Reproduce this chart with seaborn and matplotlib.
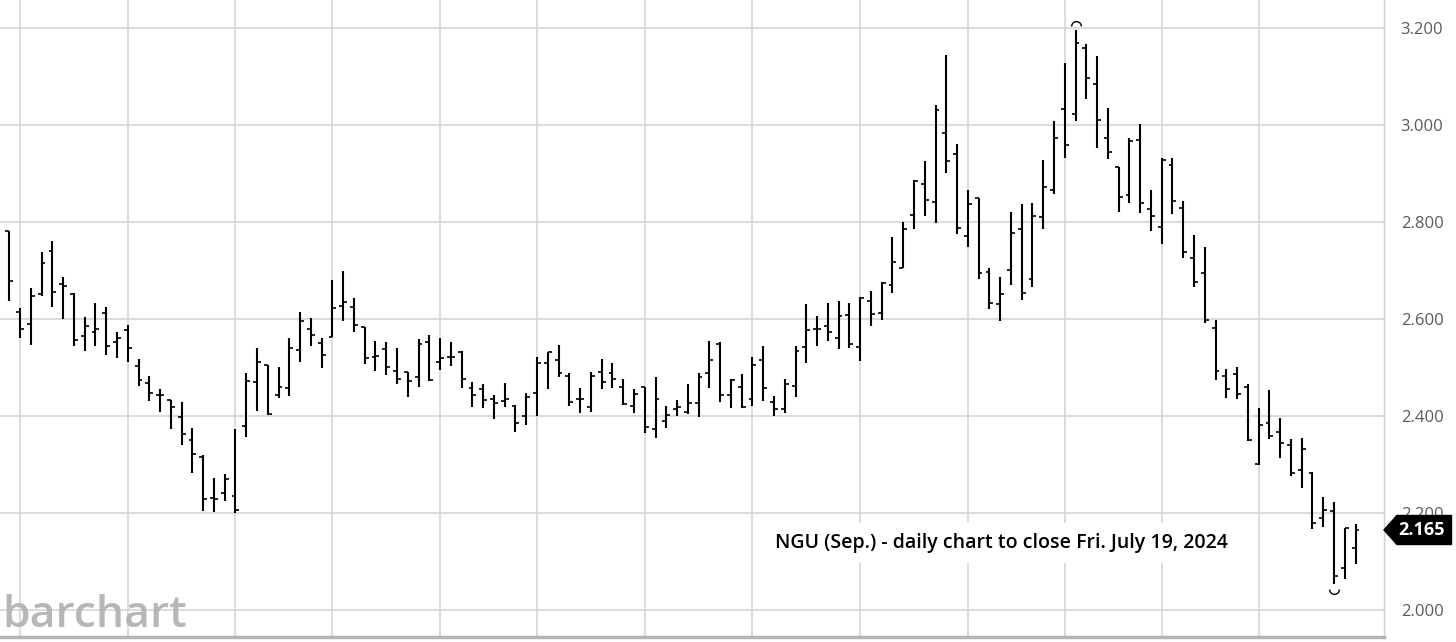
import numpy as np
import pandas as pd
import seaborn as sns
import matplotlib.pyplot as plt
from matplotlib.path import Path
from matplotlib.patches import Polygon, Rectangle
from matplotlib.transforms import blended_transform_factory

# NGU (Sep.) daily OHLC
opens = [2.780, 2.615, 2.589, 2.652, 2.740, 2.671, 2.652, 2.565, 2.572, 2.613,
         2.552, 2.576, 2.503, 2.467, 2.444, 2.433, 2.398, 2.350, 2.316, 2.231,
         2.242, 2.234, 2.380, 2.470, 2.505, 2.444, 2.457, 2.536, 2.578, 2.551,
         2.562, 2.626, 2.625, 2.583, 2.522, 2.538, 2.492, 2.490, 2.481, 2.552,
         2.510, 2.521, 2.532, 2.458, 2.455, 2.435, 2.431, 2.420, 2.400, 2.448,
         2.508, 2.515, 2.482, 2.435, 2.418, 2.490, 2.488, 2.460, 2.420, 2.459,
         2.374, 2.390, 2.414, 2.409, 2.426, 2.488, 2.548, 2.443, 2.460, 2.434,
         2.515, 2.429, 2.414, 2.462, 2.541, 2.580, 2.586, 2.561, 2.607, 2.542,
         2.636, 2.611, 2.670, 2.705, 2.814, 2.878, 2.841, 2.982, 2.939, 2.771,
         2.848, 2.696, 2.631, 2.701, 2.785, 2.683, 2.810, 2.866, 3.032, 3.021,
         3.159, 3.083, 2.973, 2.912, 2.855, 2.968, 2.826, 2.789, 2.917, 2.828,
         2.726, 2.695, 2.582, 2.482, 2.486, 2.460, 2.300, 2.385, 2.366, 2.340,
         2.288, 2.282, 2.189, 2.203, 2.086, 2.127]
highs = [2.780, 2.622, 2.663, 2.738, 2.761, 2.687, 2.653, 2.604, 2.633, 2.624,
         2.572, 2.587, 2.517, 2.482, 2.455, 2.433, 2.428, 2.376, 2.319, 2.273,
         2.280, 2.374, 2.488, 2.540, 2.505, 2.501, 2.560, 2.615, 2.601, 2.560,
         2.679, 2.699, 2.642, 2.584, 2.554, 2.553, 2.539, 2.491, 2.558, 2.567,
         2.561, 2.552, 2.534, 2.469, 2.466, 2.442, 2.467, 2.422, 2.448, 2.522,
         2.532, 2.546, 2.488, 2.457, 2.490, 2.517, 2.508, 2.477, 2.455, 2.459,
         2.481, 2.420, 2.433, 2.465, 2.488, 2.554, 2.552, 2.476, 2.486, 2.521,
         2.544, 2.441, 2.475, 2.544, 2.630, 2.606, 2.633, 2.637, 2.633, 2.644,
         2.658, 2.675, 2.768, 2.800, 2.885, 2.926, 3.040, 3.144, 2.960, 2.866,
         2.848, 2.704, 2.687, 2.821, 2.836, 2.838, 2.927, 3.008, 3.128, 3.195,
         3.167, 3.142, 3.035, 2.913, 2.972, 3.001, 2.866, 2.931, 2.931, 2.843,
         2.773, 2.749, 2.598, 2.496, 2.501, 2.465, 2.416, 2.453, 2.395, 2.352,
         2.355, 2.284, 2.233, 2.223, 2.170, 2.177]
lows = [2.637, 2.560, 2.547, 2.647, 2.625, 2.599, 2.544, 2.534, 2.545, 2.525,
        2.520, 2.510, 2.462, 2.430, 2.408, 2.372, 2.340, 2.283, 2.203, 2.201,
        2.225, 2.199, 2.356, 2.411, 2.402, 2.437, 2.441, 2.512, 2.545, 2.498,
        2.562, 2.596, 2.573, 2.507, 2.492, 2.484, 2.466, 2.438, 2.459, 2.472,
        2.495, 2.503, 2.457, 2.419, 2.416, 2.394, 2.418, 2.367, 2.381, 2.400,
        2.455, 2.481, 2.420, 2.405, 2.407, 2.455, 2.457, 2.422, 2.405, 2.364,
        2.354, 2.376, 2.400, 2.404, 2.398, 2.457, 2.429, 2.416, 2.416, 2.420,
        2.431, 2.400, 2.405, 2.438, 2.508, 2.543, 2.555, 2.537, 2.539, 2.514,
        2.585, 2.598, 2.654, 2.705, 2.786, 2.812, 2.798, 2.901, 2.774, 2.747,
        2.682, 2.620, 2.596, 2.670, 2.639, 2.666, 2.786, 2.857, 2.931, 3.008,
        3.052, 2.951, 2.929, 2.821, 2.839, 2.819, 2.780, 2.754, 2.815, 2.725,
        2.666, 2.592, 2.474, 2.436, 2.434, 2.348, 2.299, 2.352, 2.313, 2.277,
        2.252, 2.167, 2.172, 2.054, 2.063, 2.095]
closes = [2.678, 2.578, 2.647, 2.714, 2.655, 2.668, 2.556, 2.585, 2.579, 2.543,
          2.560, 2.539, 2.474, 2.448, 2.442, 2.419, 2.362, 2.321, 2.229, 2.229,
          2.269, 2.206, 2.472, 2.512, 2.403, 2.460, 2.539, 2.596, 2.567, 2.525,
          2.623, 2.634, 2.587, 2.519, 2.524, 2.501, 2.477, 2.472, 2.548, 2.473,
          2.520, 2.521, 2.475, 2.443, 2.433, 2.426, 2.434, 2.385, 2.438, 2.508,
          2.532, 2.488, 2.429, 2.434, 2.483, 2.469, 2.475, 2.424, 2.445, 2.378,
          2.434, 2.401, 2.419, 2.426, 2.481, 2.515, 2.444, 2.473, 2.419, 2.505,
          2.458, 2.414, 2.465, 2.534, 2.576, 2.578, 2.573, 2.606, 2.548, 2.643,
          2.610, 2.673, 2.717, 2.786, 2.883, 2.845, 3.030, 2.926, 2.788, 2.837,
          2.694, 2.632, 2.651, 2.776, 2.654, 2.812, 2.872, 2.972, 2.958, 3.169,
          3.096, 3.010, 2.944, 2.850, 2.967, 2.838, 2.812, 2.927, 2.843, 2.737,
          2.675, 2.598, 2.492, 2.455, 2.445, 2.350, 2.381, 2.359, 2.345, 2.282,
          2.331, 2.179, 2.206, 2.070, 2.168, 2.165]

# bars where the vertical (two-week) grid lines fall
grid_days = [1, 11, 21, 30, 40, 49, 59, 69, 79, 89, 98, 107, 116]
price_ticks = [2.0, 2.2, 2.4, 2.6, 2.8, 3.0, 3.2]
title = "NGU (Sep.) - daily chart to close Fri. July 19, 2024"

df = pd.DataFrame({"open": opens, "high": highs, "low": lows, "close": closes})
df["day"] = np.arange(len(df))

sns.set_theme(style="white")
plt.rcParams["font.family"] = ["Open Sans", "DejaVu Sans"]

fig = plt.figure(figsize=(14.56, 6.42), dpi=100)
ax = fig.add_axes([0, 5 / 642, 1384 / 1456, 637 / 642])

ax.set_xlim(-0.864, 127.64)
ax.set_ylim(1.9444, 3.2569)

# grid
ax.set_xticks(grid_days)
ax.set_xticklabels([])
ax.set_yticks(price_ticks)
ax.set_yticklabels(["%.3f" % t for t in price_ticks])
ax.grid(True, color="#d2d2d2", linewidth=1.1)
ax.set_axisbelow(True)
ax.yaxis.tick_right()
ax.tick_params(axis="y", length=0, pad=12, labelsize=12, labelcolor="#5a5a5a")
ax.tick_params(axis="x", length=0)

for s in ["top", "left"]:
    ax.spines[s].set_visible(False)
ax.spines["right"].set_color("#d0d0d0")
ax.spines["right"].set_linewidth(1.0)
ax.spines["bottom"].set_color("#b4b4b4")
ax.spines["bottom"].set_linewidth(2.5)

# OHLC bars
tick = 0.36
ax.vlines(df["day"], df["low"], df["high"], color="black", linewidth=1.5, zorder=3)
ax.hlines(df["open"], df["day"] - tick, df["day"], color="black", linewidth=1.2, zorder=3)
ax.hlines(df["close"], df["day"], df["day"] + tick, color="black", linewidth=1.2, zorder=3)

# high / low markers
arc_up = Path.arc(0, 180)
arc_dn = Path.arc(180, 360)
hi = df["high"].idxmax()
lo = df["low"].idxmin()
ax.plot(hi, df["high"][hi] + 0.008, marker=arc_up, markersize=7, color="black",
        fillstyle="none", markeredgewidth=1.0, linestyle="none", zorder=4, clip_on=False)
ax.plot(lo, df["low"][lo] - 0.011, marker=arc_dn, markersize=7, color="black",
        fillstyle="none", markeredgewidth=1.0, linestyle="none", zorder=4)

# last price tag
last = df["close"].iloc[-1]
tr = blended_transform_factory(fig.transFigure, ax.transData)
h = 0.030
ax.add_patch(Polygon([(1384 / 1456, last), (1397 / 1456, last + h), (1397 / 1456, last - h)],
                     closed=True, transform=tr, color="black", clip_on=False, zorder=10))
ax.add_patch(Rectangle((1396 / 1456, last - h), 55 / 1456, 2 * h, transform=tr,
                       color="black", clip_on=False, zorder=10))
ax.text(1422 / 1456, last, "%.3f" % last, transform=tr, ha="center", va="center",
        color="white", fontsize=13, fontweight="bold", zorder=11, clip_on=False)

# caption
ax.text(775 / 1384, (636 - 542) / 636, title, transform=ax.transAxes, ha="left", va="center",
        fontsize=14, fontweight="semibold", color="black", zorder=5,
        bbox=dict(boxstyle="square,pad=0.5", facecolor="white", edgecolor="none"))

# watermark
fig.text(2 / 1456, (642 - 627) / 642, "barchart", ha="left", va="baseline",
         fontsize=32, fontweight="semibold", color="#b0b0b0", alpha=0.9)

fig.savefig("out.png", dpi=100)
